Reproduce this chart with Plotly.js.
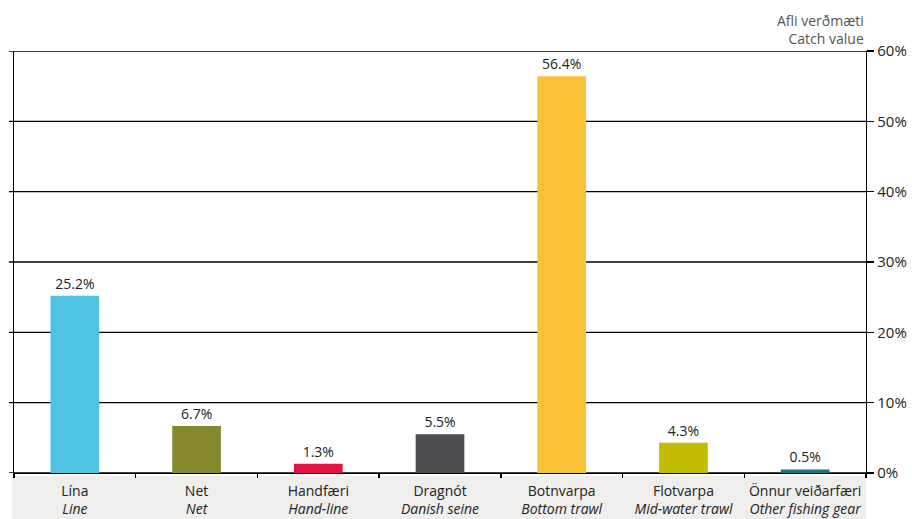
<!DOCTYPE html>
<html>
<head>
<meta charset="utf-8">
<script src="https://cdn.plot.ly/plotly-3.0.1.min.js"></script>
<style>html,body{margin:0;padding:0;background:#fff;}#chart{width:912px;height:519px;}</style>
</head>
<body>
<div id="chart"></div>
<script>
var categoriesIs = ['Lína','Net','Handfæri','Dragnót','Botnvarpa','Flotvarpa','Önnur veiðarfæri'];
var categoriesEn = ['Line','Net','Hand-line','Danish seine','Bottom trawl','Mid-water trawl','Other fishing gear'];
var values = [25.2, 6.7, 1.3, 5.5, 56.4, 4.3, 0.5];
var barColors = ['#4fc3e1','#85882d','#e5133f','#4d4c51','#fac136','#c4bc00','#1d6f83'];
var yTicks = [0,10,20,30,40,50,60];
var axisTitle = 'Afli verðmæti<br>Catch value';

var labels = categoriesIs.map(function(c,i){ return c + '<br><i>' + categoriesEn[i] + '</i>'; });

var font = '"Open Sans", Lato, sans-serif';

var trace = {
  type: 'bar',
  x: labels,
  y: values,
  marker: {color: barColors, line: {width: 0}},
  texttemplate: '%{y:.1f}%',
  textposition: 'outside',
  textfont: {family: font, size: 14, color: '#222'},
  cliponaxis: false,
  hoverinfo: 'skip'
};

var shapes = [];
shapes.push({type:'rect', xref:'paper', yref:'paper', x0:-2/852, x1:1, y0:-3/422, y1:-46/422,
  fillcolor:'#efeeec', line:{width:0}, layer:'below'});
yTicks.forEach(function(t){
  shapes.push({type:'line', xref:'paper', yref:'y', x0:-5/852, x1:1, y0:t, y1:t,
    line:{color:'#000', width:1.3}, layer:'below'});
});

var layout = {
  width: 912, height: 519,
  margin: {l:14, r:46, t:51, b:46, pad:0},
  paper_bgcolor: '#fff', plot_bgcolor: '#fff',
  font: {family: font, size: 14, color: '#222'},
  showlegend: false,
  bargap: 0.6,
  xaxis: {
    type: 'category',
    showline: true, linecolor: '#000', linewidth: 1.3,
    ticks: 'outside', tickson: 'boundaries', ticklen: 4, tickcolor: '#000', tickwidth: 1.3,
    ticklabelstandoff: 5,
    tickfont: {family: font, size: 14, color: '#222'},
    showgrid: false, zeroline: false, fixedrange: true
  },
  yaxis: {
    side: 'right',
    range: [0, 60],
    tickvals: yTicks,
    ticktext: yTicks.map(function(t){return t + '%';}),
    showline: true, mirror: true, linecolor: '#000', linewidth: 1.3,
    ticks: 'outside', ticklen: 7, tickcolor: '#000', tickwidth: 1.3,
    tickfont: {family: font, size: 15, color: '#222'},
    showgrid: false, zeroline: false, fixedrange: true
  },
  shapes: shapes,
  annotations: [{
    xref:'paper', yref:'paper', x:1, y:(473-29)/422, xanchor:'right', yanchor:'middle',
    text: axisTitle, showarrow:false, align:'right',
    font:{family: font, size:14, color:'#555'}
  }]
};

Plotly.newPlot('chart', [trace], layout, {displayModeBar:false, staticPlot:true});
</script>
</body>
</html>
